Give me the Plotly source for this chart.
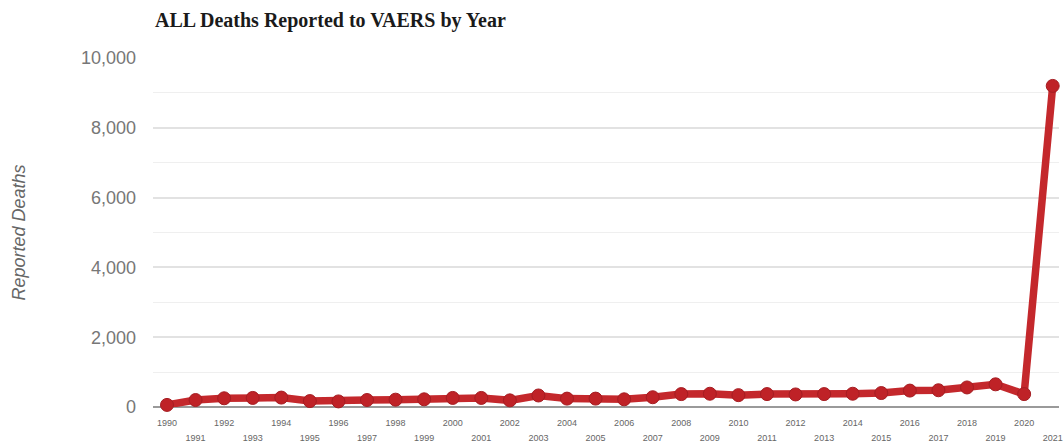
import plotly.graph_objects as go

years = list(range(1990, 2022))
deaths = [60, 200, 250, 260, 270, 170, 160, 200, 210, 220,
          260, 260, 190, 330, 240, 240, 220, 280, 370, 380,
          340, 370, 360, 370, 380, 400, 470, 480, 560, 650,
          370, 9200]
y_ticks = [0, 2000, 4000, 6000, 8000, 10000]
even_years = [y for y in years if y % 2 == 0]
odd_years = [y for y in years if y % 2 == 1]

fig = go.Figure()
fig.add_trace(go.Scatter(
    x=years, y=deaths, mode="lines+markers",
    line=dict(color="#c4282c", width=7.5),
    marker=dict(color="#bf2227", size=13, line=dict(color="#a51d22", width=1)),
    cliponaxis=False, showlegend=False,
))
# invisible trace for secondary (odd-year) axis
fig.add_trace(go.Scatter(x=[years[0], years[-1]], y=[0, 0], xaxis="x2",
                         mode="markers", marker=dict(opacity=0),
                         showlegend=False, hoverinfo="skip"))

fig.update_layout(
    width=1063, height=446,
    margin=dict(l=153, r=0, t=58, b=39),
    paper_bgcolor="white", plot_bgcolor="white",
    title=dict(text="ALL Deaths Reported to VAERS by Year",
               font=dict(family="Liberation Serif", size=20, color="#1a1a1a", weight="bold"),
               x=155 / 1063, xanchor="left", xref="container",
               y=1 - 20 / 446, yanchor="middle", yref="container"),
    xaxis=dict(range=[1989.51, 2021.22], tickvals=even_years,
               ticktext=[str(y) for y in even_years],
               tickfont=dict(family="Liberation Sans", size=9, color="#666"),
               showgrid=False, zeroline=False, ticks="", ticklabelstandoff=9,
               ticklabeloverflow="allow"),
    xaxis2=dict(range=[1989.51, 2021.22], overlaying="x", anchor="y", side="bottom",
                tickvals=odd_years, ticktext=[str(y) for y in odd_years],
                tickfont=dict(family="Liberation Sans", size=9, color="#666"),
                showgrid=False, zeroline=False, ticks="", ticklabelstandoff=24,
                ticklabeloverflow="allow"),
    yaxis=dict(range=[0, 10000], tickvals=y_ticks, tickformat=",",
               tickfont=dict(family="Liberation Sans", size=18, color="#777"),
               gridcolor="#e2e2e2", gridwidth=1.5,
               minor=dict(dtick=1000, tick0=0, showgrid=True, gridcolor="#efefef", gridwidth=1),
               zeroline=True, zerolinecolor="#9a9a9a", zerolinewidth=2,
               ticks="", ticklabelstandoff=16,
               title=dict(text="<i>Reported Deaths</i>",
                          font=dict(family="Liberation Sans", size=18, color="#666"),
                          standoff=50)),
)

fig.write_html("out.html", config={"displayModeBar": False},
               post_script="document.body.style.margin='0';")
